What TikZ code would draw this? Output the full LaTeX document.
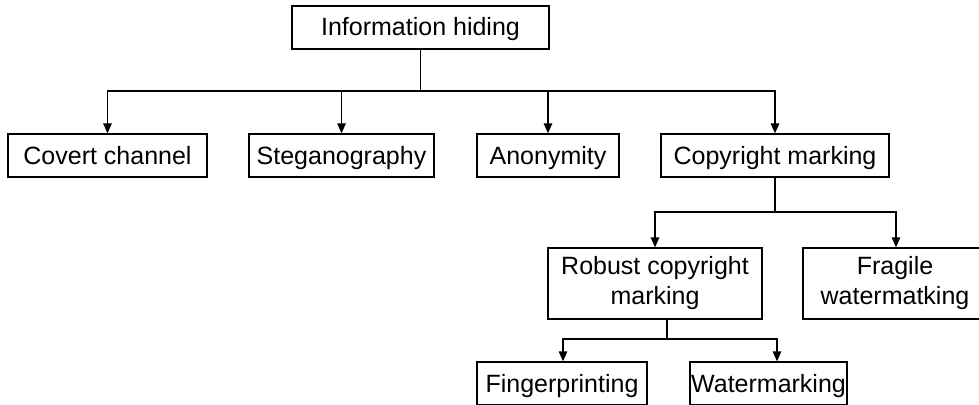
\documentclass[tikz,border=0pt]{standalone}
\usepackage{fontspec}
\setmainfont{Liberation Sans}
\usetikzlibrary{arrows.meta}
\begin{document}
\begin{tikzpicture}[x=1pt,y=-1pt,
  box/.style={draw=black,line width=1.3pt,inner sep=0pt,align=center,
    font=\fontsize{25}{30}\selectfont,minimum height=43pt},
  oneline/.style={box,text height=19pt,text depth=2pt},
  link/.style={draw=black,line width=1.3pt},
  arr/.style={link,-{Triangle[length=10pt,width=8.5pt]}}]
\clip (0,0) rectangle (979,404);
\fill[white] (0,0) rectangle (979,404);

% top level
\node[oneline,minimum width=257pt] (info) at (420.5,27.5) {Information hiding};

% second level
\node[oneline,minimum width=199pt] (cov)  at (107.5,155.5) {Covert channel};
\node[oneline,minimum width=185pt] (steg) at (341.5,155.5) {Steganography};
\node[oneline,minimum width=142pt] (anon) at (548,155.5)   {Anonymity};
\node[oneline,minimum width=228pt] (copy) at (775,155.5)   {Copyright marking};

% third level
\node[box,minimum width=214pt,minimum height=71pt] (rob) at (655,283.5) {Robust copyright\\marking};
\node[box,minimum width=184pt,minimum height=71pt] (frag) at (895,283.5) {Fragile\\watermatking};

% fourth level
\node[oneline,minimum width=170pt] (fing)  at (562,383.5)   {Fingerprinting};
\node[oneline,minimum width=157pt] (water) at (768.5,383.5) {Watermarking};

% junction points of the connector buses
\coordinate (b1) at (420.5,91);
\coordinate (b2) at (775,212);
\coordinate (b3) at (667,339);

\draw[link] (info.south) -- (b1);
\draw[arr] (b1) -| (cov.north);
\draw[arr] (b1) -| (steg.north);
\draw[arr] (b1) -| (anon.north);
\draw[arr] (b1) -| (copy.north);

\draw[link] (copy.south) -- (b2);
\draw[arr] (b2) -| (rob.north);
\draw[arr] (b2) -| ([xshift=1pt]frag.north);

\draw[link] ([xshift=12pt]rob.south) -- (b3);
\draw[arr] (b3) -| ([xshift=1pt]fing.north);
\draw[arr] (b3) -| ([xshift=8.5pt]water.north);
\end{tikzpicture}
\end{document}
